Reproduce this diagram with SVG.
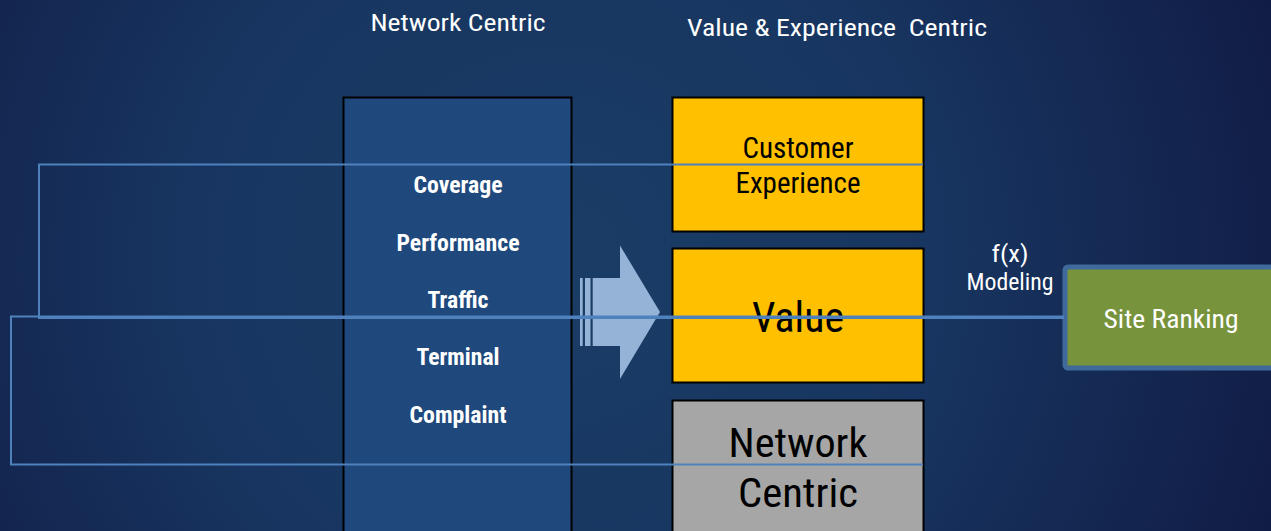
<svg xmlns="http://www.w3.org/2000/svg" width="1271" height="531" viewBox="0 0 1271 531">
  <defs>
    <radialGradient id="bg" cx="560" cy="260" r="760" gradientUnits="userSpaceOnUse">
      <stop offset="0" stop-color="#1a3d66"/>
      <stop offset="0.5" stop-color="#173560"/>
      <stop offset="1" stop-color="#111c45"/>
    </radialGradient>
    <style>
      text { font-family: Roboto, "Liberation Sans", sans-serif; font-stretch: condensed; text-anchor: middle; }
      .head { fill: #ffffff; font-size: 24px; }
      .metric { fill: #ffffff; font-size: 23px; font-weight: bold; }
      .dark { fill: #000000; }
      .box { stroke: #000000; stroke-width: 2; }
      .link { fill: none; stroke: #4f81bd; stroke-width: 2; }
    </style>
  </defs>

  <rect width="1271" height="531" fill="url(#bg)"/>

  <!-- column headings -->
  <text class="head" x="458" y="31" textLength="175" lengthAdjust="spacingAndGlyphs">Network Centric</text>
  <text class="head" x="837" y="36" textLength="300" lengthAdjust="spacingAndGlyphs" xml:space="preserve">Value &amp; Experience  Centric</text>

  <!-- network metrics column -->
  <g id="metrics">
    <rect class="box" x="343.5" y="97.5" width="228" height="440" fill="#1f497d"/>
    <text class="metric" x="458" y="193" textLength="89" lengthAdjust="spacingAndGlyphs">Coverage</text>
    <text class="metric" x="458" y="251" textLength="123" lengthAdjust="spacingAndGlyphs">Performance</text>
    <text class="metric" x="458" y="308" textLength="61" lengthAdjust="spacingAndGlyphs">Traffic</text>
    <text class="metric" x="458" y="365" textLength="83" lengthAdjust="spacingAndGlyphs">Terminal</text>
    <text class="metric" x="458" y="423" textLength="97" lengthAdjust="spacingAndGlyphs">Complaint</text>
  </g>

  <!-- transition arrow -->
  <g id="arrow" fill="#95b3d7">
    <rect x="580" y="278" width="2.7" height="68"/>
    <rect x="585" y="278" width="5.5" height="68"/>
    <polygon points="592.7,278 620,278 620,245.5 660,312 620,379 620,346 592.7,346"/>
  </g>

  <g id="customer-experience">
    <rect class="box" x="672.5" y="97.5" width="251" height="134" fill="#ffc000"/>
    <text class="dark" x="798" y="158" font-size="29" textLength="111" lengthAdjust="spacingAndGlyphs">Customer</text>
    <text class="dark" x="798" y="193" font-size="29" textLength="125" lengthAdjust="spacingAndGlyphs">Experience</text>
  </g>

  <g id="value">
    <rect class="box" x="672.5" y="248.5" width="251" height="134" fill="#ffc000"/>
    <text class="dark" x="798" y="332" font-size="42" textLength="92" lengthAdjust="spacingAndGlyphs">Value</text>
  </g>

  <g id="network-centric">
    <rect class="box" x="672.5" y="400.5" width="251" height="140" fill="#a6a6a6"/>
    <text class="dark" x="798" y="457" font-size="40" textLength="139" lengthAdjust="spacingAndGlyphs">Network</text>
    <text class="dark" x="798" y="507" font-size="40" textLength="120" lengthAdjust="spacingAndGlyphs">Centric</text>
  </g>

  <g id="modeling">
    <text class="head" x="1010" y="262" textLength="37" lengthAdjust="spacingAndGlyphs">f(x)</text>
    <text class="head" x="1010" y="290" font-size="22" textLength="87" lengthAdjust="spacingAndGlyphs">Modeling</text>
  </g>

  <g id="site-ranking">
    <rect x="1065" y="267" width="220" height="101" rx="3" fill="#77933c" stroke="#3f6a9b" stroke-width="5"/>
    <text x="1171" y="328" fill="#ffffff" font-size="26" textLength="135" lengthAdjust="spacingAndGlyphs">Site Ranking</text>
  </g>

  <!-- connectors -->
  <g id="connectors">
    <path class="link" d="M923,164.5 H39 V318 H1064"/>
    <path class="link" d="M923,464.5 H11 V316.5 H1064"/>
  </g>
</svg>
